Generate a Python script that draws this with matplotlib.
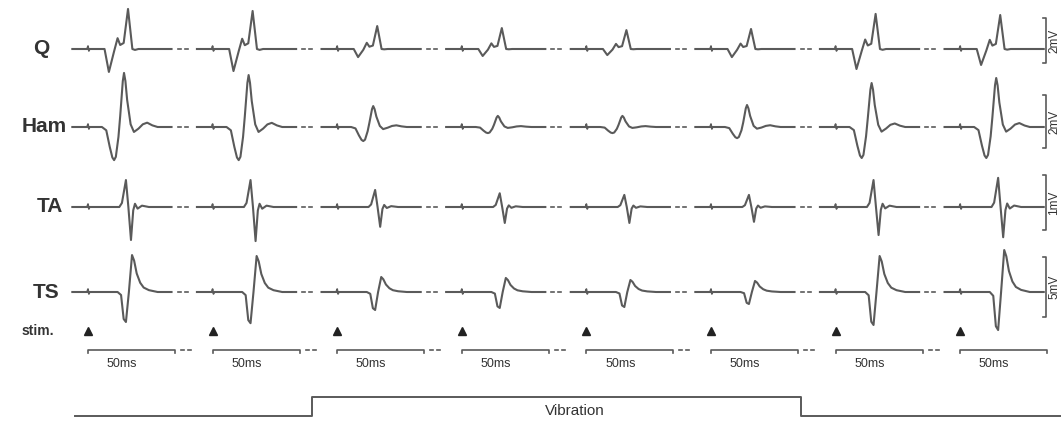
import numpy as np
import matplotlib
matplotlib.use('Agg')
import matplotlib.pyplot as plt

plt.rcParams['font.family'] = ['Liberation Sans', 'DejaVu Sans']

muscles = ['Q', 'Ham', 'TA', 'TS']
calib_mv = [2, 2, 1, 5]
calib_txt = ['2mV', '2mV', '1mV', '5mV']
n_sweeps = 8
vibration_on = [0, 0, 1, 1, 1, 1, 0, 0]

# response shapes, time in ms after stimulus, value relative to peak (+) or trough (-)
q_t = [-9, 9.5, 12, 15, 17, 18.5, 20.5, 23, 25.5, 27, 29, 48]
q_v = [0, 0, -1, -0.1, 0.27, 0.1, 0.15, 1, 0.0, -0.04, 0, 0]
ham_t = [-9, 8, 10.5, 12.5, 14, 15, 16, 17.5, 18.5, 20, 20.7, 21.5, 22.5, 24.5, 26.4, 29, 31.5, 34, 37, 40, 48]
ham_v = [0, 0, -0.1, -0.6, -0.92, -1, -0.9, -0.3, 0.2, 0.85, 1, 0.85, 0.5, 0.05, -0.15, -0.05, 0.05, 0.08, 0.03, 0, 0]
ta_t = [-9, 18, 19.5, 21.8, 23.2, 24.7, 26, 27, 28.5, 31, 35, 48]
ta_v = [0, 0, 0.15, 1, 0, -1, -0.1, 0.12, -0.05, 0.05, 0, 0]
ts_t = [-9, 17, 19, 20.5, 21.8, 23.5, 25.3, 26.5, 28, 30, 32, 35, 40, 48]
ts_v = [0, 0, -0.1, -0.9, -1, 0, 1, 0.85, 0.5, 0.25, 0.12, 0.05, 0, 0]

# peak and trough size per sweep (mV)
q_pos = [1.78, 1.69, 1.02, 0.93, 0.84, 0.89, 1.56, 1.51]
q_neg = [1.02, 0.98, 0.36, 0.31, 0.27, 0.36, 0.89, 0.71]
ham_pos = [2.04, 1.96, 0.79, 0.42, 0.42, 0.83, 1.66, 1.85]
ham_neg = [1.25, 1.25, 0.53, 0.23, 0.23, 0.42, 1.17, 1.17]
ta_pos = [0.49, 0.49, 0.31, 0.25, 0.22, 0.22, 0.49, 0.53]
ta_neg = [0.60, 0.62, 0.36, 0.29, 0.29, 0.27, 0.51, 0.55]
ts_pos = [3.08, 3.0, 1.25, 1.17, 1.0, 0.92, 3.0, 3.5]
ts_neg = [2.5, 2.6, 1.5, 1.33, 1.25, 1.0, 2.75, 3.17]

shapes = [(q_t, q_v), (ham_t, ham_v), (ta_t, ta_v), (ts_t, ts_v)]
pos = [q_pos, ham_pos, ta_pos, ts_pos]
neg = [q_neg, ham_neg, ta_neg, ts_neg]

# layout (pixels)
W, H = 1061, 423
x_first, x_step = 88, 124.6
px_ms = 1.74
baseline = [49, 127, 207, 292]
bar_px = [45, 53, 55, 60]
bar_bottom = [63, 148, 230, 317]
stim_y, scale_y, vib_lo, vib_hi = 331, 350, 416, 397
col = '#5a5a5a'
tcol = '#333333'

fig = plt.figure(figsize=(W / 100, H / 100), dpi=100)
ax = fig.add_axes([0, 0, 1, 1])
ax.set_xlim(0, W)
ax.set_ylim(H, 0)
ax.axis('off')

label_x = [41, 44, 50, 46]
for r in range(4):
    t, v = np.array(shapes[r][0]), np.array(shapes[r][1])
    scale = bar_px[r] / calib_mv[r]
    for i in range(n_sweeps):
        x0 = x_first + x_step * i
        amp = np.where(v > 0, v * pos[r][i], v * neg[r][i])
        xs = x0 + t * px_ms
        ys = baseline[r] - amp * scale
        ax.plot(xs, ys, color=col, lw=1.5, solid_joinstyle='round')
        # stimulus artefact
        ax.plot(x0 + np.array([-0.6, 0, 0.5, 1.0]) * px_ms,
                baseline[r] - np.array([0, 3, -2, 0]), color=col, lw=1.2)
        if i < n_sweeps - 1:
            xe = xs[-1]
            ax.plot([xe + 6, xe + 9], [baseline[r]] * 2, color=col, lw=1.2)
            ax.plot([xe + 13, xe + 16], [baseline[r]] * 2, color=col, lw=1.2)
    ax.text(label_x[r], baseline[r], muscles[r], fontsize=15, fontweight='bold',
            color=tcol, ha='center', va='center')
    # calibration bar
    bx = 1046
    yb, yt = bar_bottom[r], bar_bottom[r] - bar_px[r]
    ax.plot([bx - 3, bx, bx, bx - 3], [yt, yt, yb, yb], color=col, lw=1.2)
    ax.text(1054, (yb + yt) / 2, calib_txt[r], rotation=90, fontsize=8.5,
            color=tcol, ha='center', va='center')

ax.text(38, stim_y, 'stim.', fontsize=10, fontweight='bold', color=tcol,
        ha='center', va='center')
for i in range(n_sweeps):
    x0 = x_first + x_step * i
    ax.plot([x0], [stim_y], marker='^', ms=6, color='#222222')
    x1 = x0 + 50 * px_ms
    ax.plot([x0, x0, x1, x1], [scale_y + 3, scale_y, scale_y, scale_y + 3],
            color=col, lw=1.2)
    if i < n_sweeps - 1:
        ax.plot([x1 + 6, x1 + 9], [scale_y] * 2, color=col, lw=1.2)
        ax.plot([x1 + 13, x1 + 16], [scale_y] * 2, color=col, lw=1.2)
    ax.text(x0 + 34, scale_y + 14, '50ms', fontsize=9, color=tcol,
            ha='center', va='center')

# vibration timing trace
vx = [75]
vy = [vib_lo]
for i in range(1, n_sweeps):
    if vibration_on[i] != vibration_on[i - 1]:
        xs = x_first + x_step * i - (25 if vibration_on[i] else 35)
        vx += [xs, xs]
        vy += [vy[-1], vib_hi if vibration_on[i] else vib_lo]
vx.append(W)
vy.append(vy[-1])
ax.plot(vx, vy, color=col, lw=1.4)
ax.text(575, 411, 'Vibration', fontsize=11, color=tcol, ha='center', va='center')

fig.savefig('out.png', dpi=100)
